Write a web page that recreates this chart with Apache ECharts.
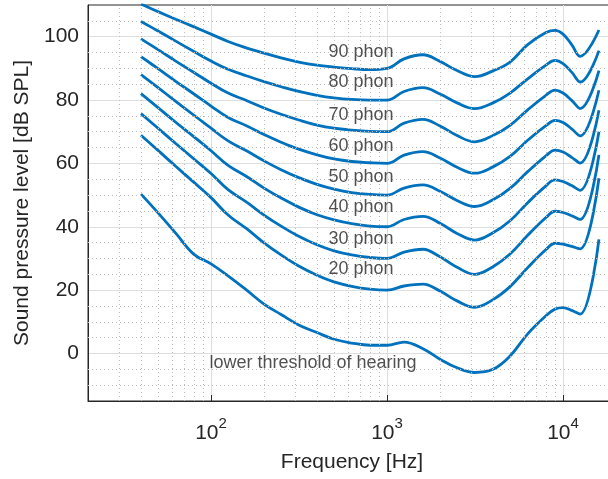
<!DOCTYPE html>
<html>
<head>
<meta charset="utf-8">
<script src="https://cdn.jsdelivr.net/npm/echarts@6/dist/echarts.min.js"></script>
<style>
  html, body { margin: 0; padding: 0; background: #fff; }
  #chart { width: 608px; height: 479px; }
</style>
</head>
<body>
<div id="chart"></div>
<script>
  // frequencies [Hz] shared by every contour
  const freqs = [40, 50, 63, 80, 100, 125, 160, 200, 250, 315, 400, 500, 630, 800, 1000,
    1250, 1600, 2000, 2500, 3150, 4000, 5000, 6300, 8000, 9000, 10000, 11200, 12500, 16000]

  // sound pressure level [dB SPL]
  const threshold = [50.3, 44.4, 38.0, 31.3, 28.3, 24.5, 19.9, 15.6, 12.3, 9.0, 6.6, 4.5, 3.3, 2.6, 2.6,
    3.6, 1.5, -1.8, -4.5, -6.0, -5.0, -0.8, 6.2, 11.9, 14.0, 14.5, 13.6, 12.4, 36.0]
  const phon20 = [68.9, 64.1, 59.1, 54.0, 49.2, 43.7, 39.3, 34.9, 31.1, 27.6, 24.7, 22.6, 21.2, 20.3, 20.0,
    21.3, 21.9, 19.7, 16.6, 14.6, 17.0, 21.1, 27.1, 32.8, 34.8, 34.5, 33.8, 33.0, 55.3]
  const phon30 = [75.7, 71.1, 66.3, 61.4, 56.8, 51.7, 47.7, 43.7, 40.2, 37.0, 34.3, 32.4, 31.1, 30.3, 30.0,
    32.0, 32.9, 30.5, 27.2, 25.0, 27.4, 31.4, 37.3, 42.9, 44.9, 44.5, 43.5, 42.3, 62.7]
  const phon40 = [82.0, 77.6, 73.0, 68.4, 64.0, 59.4, 55.8, 52.2, 49.1, 46.2, 43.8, 42.2, 41.0, 40.2, 40.0,
    42.3, 43.3, 41.1, 37.9, 35.8, 38.1, 41.9, 47.6, 52.9, 54.8, 54.3, 53.0, 51.5, 70.0]
  const phon50 = [88.0, 83.9, 79.6, 75.2, 71.1, 67.1, 63.9, 60.8, 58.0, 55.5, 53.4, 51.9, 50.8, 50.2, 50.0,
    52.2, 53.2, 51.2, 48.3, 46.4, 48.5, 52.1, 57.4, 62.4, 64.2, 63.6, 61.9, 60.1, 76.8]
  const phon60 = [93.7, 89.9, 85.9, 81.9, 78.1, 74.5, 71.8, 69.1, 66.7, 64.5, 62.7, 61.4, 60.6, 60.2, 60.0,
    62.6, 63.7, 61.7, 58.8, 56.9, 58.9, 62.2, 67.3, 71.9, 73.6, 72.9, 70.9, 68.7, 83.1]
  const phon70 = [99.3, 95.9, 92.3, 88.7, 85.3, 82.2, 79.8, 77.5, 75.5, 73.7, 72.1, 71.1, 70.5, 70.1, 70.0,
    72.7, 73.9, 71.8, 68.8, 66.8, 68.8, 72.0, 76.9, 81.5, 83.1, 82.2, 79.9, 77.3, 89.3]
  const phon80 = [104.8, 101.8, 98.6, 95.3, 92.3, 89.7, 87.6, 85.8, 84.2, 82.7, 81.5, 80.7, 80.2, 80.0, 80.0,
    82.7, 83.9, 81.9, 79.1, 77.3, 79.1, 82.2, 86.7, 91.0, 92.5, 91.5, 88.8, 85.7, 95.6]
  const phon90 = [110.3, 107.9, 105.5, 103.1, 100.8, 98.5, 96.4, 94.8, 93.3, 92.0, 91.0, 90.4, 89.9, 89.6, 90.0,
    93.0, 94.3, 92.2, 89.3, 87.4, 89.2, 92.0, 97.5, 101.3, 102.0, 100.8, 97.5, 93.8, 102.1]

  const curves = [threshold, phon20, phon30, phon40, phon50, phon60, phon70, phon80, phon90]
  const curveNames = ['lower threshold of hearing', '20 phon', '30 phon', '40 phon', '50 phon',
    '60 phon', '70 phon', '80 phon', '90 phon']

  // y tick labels, and the minor (dotted) grid values on both axes
  const yTicks = [0, 20, 40, 60, 80, 100]
  const minorFreqs = [30, 40, 50, 60, 70, 80, 90, 200, 300, 400, 500, 600, 700, 800, 900,
    2000, 3000, 4000, 5000, 6000, 7000, 8000, 9000]
  const minorLevels = [-10, -5, 5, 10, 15, 25, 30, 35, 45, 50, 55, 65, 70, 75, 85, 90, 95, 105]

  const font = 'Liberation Sans, Arial, Helvetica, sans-serif'
  const ink = '#262626'
  const none = 'rgba(0,0,0,0)'

  let chart = echarts.init(document.getElementById('chart'), null, { renderer: 'canvas' })

  let series = curves.map(function (vals, k) {
    return {
      name: curveNames[k],
      type: 'line',
      data: freqs.map(function (f, i) { return [f, vals[i]] }),
      showSymbol: false,
      smooth: 0.4,
      clip: true,
      z: 3,
      lineStyle: { color: '#0072BD', width: 2.8 }
    }
  })

  // dotted minor grid
  series.push({
    type: 'line',
    data: [],
    silent: true,
    z: 1,
    markLine: {
      silent: true,
      animation: false,
      symbol: ['none', 'none'],
      label: { show: false },
      lineStyle: { type: [1, 3], color: '#bdbdbd', width: 1 },
      data: minorFreqs.map(function (f) { return { xAxis: f } })
        .concat(minorLevels.map(function (v) { return { yAxis: v } }))
    }
  })

  // curve annotations
  series.push({
    type: 'scatter',
    silent: true,
    symbolSize: 0,
    z: 5,
    data: [
      [465, 95.0, '90 phon'], [465, 85.6, '80 phon'], [465, 75.2, '70 phon'], [465, 65.5, '60 phon'],
      [465, 55.8, '50 phon'], [465, 46.3, '40 phon'], [465, 36.0, '30 phon'], [465, 26.6, '20 phon'],
      [98, -3.0, 'lower threshold of hearing']
    ],
    label: {
      show: true,
      position: 'right',
      distance: 0,
      formatter: function (p) { return p.value[2] },
      fontFamily: font,
      fontSize: 18,
      color: ink
    }
  })

  let option = {
    animation: false,
    backgroundColor: '#fff',
    grid: {
      left: 88, top: 5, right: -8, bottom: 78,
      show: true, borderColor: ink, borderWidth: 1,
      outerBoundsMode: 'none', containLabel: false
    },
    xAxis: {
      type: 'log',
      logBase: 10,
      min: 20,
      max: 20000,
      axisLine: { show: true, onZero: false, lineStyle: { color: ink, width: 1 } },
      axisTick: { show: true, inside: true, length: 6, lineStyle: { color: ink } },
      axisLabel: {
        margin: 15,
        formatter: function (v) {
          let e = Math.round(Math.log10(v))
          if (Math.abs(Math.log10(v) - e) > 1e-6) return ''
          return '{b|10}{s|' + e + '}'
        },
        rich: {
          b: { fontFamily: font, fontSize: 21, color: ink },
          s: { fontFamily: font, fontSize: 15, color: ink, padding: [0, 0, 20, 0] }
        }
      },
      splitLine: { show: true, lineStyle: { color: '#dedede', width: 1 } },
      name: 'Frequency [Hz]',
      nameLocation: 'middle',
      nameGap: 51,
      nameTextStyle: { fontFamily: font, fontSize: 21, color: ink }
    },
    yAxis: {
      type: 'value',
      min: -15,
      max: 110,
      interval: 5,
      axisLine: { show: true, onZero: false, lineStyle: { color: ink, width: 1 } },
      axisTick: { show: false },
      axisLabel: {
        fontFamily: font, fontSize: 21, color: ink, margin: 9,
        formatter: function (v) { return yTicks.indexOf(v) >= 0 ? String(v) : '' }
      },
      // ticks run -15, -10, ... so every 4th one (index 3, 7, ...) is a multiple of 20
      splitLine: { show: true, lineStyle: { color: [none, none, none, '#dedede'], width: 1 } },
      name: 'Sound pressure level [dB SPL]',
      nameLocation: 'middle',
      nameGap: 43,
      nameTextStyle: { fontFamily: font, fontSize: 21, color: ink }
    },
    series: series
  }

  chart.setOption(option)
</script>
</body>
</html>
